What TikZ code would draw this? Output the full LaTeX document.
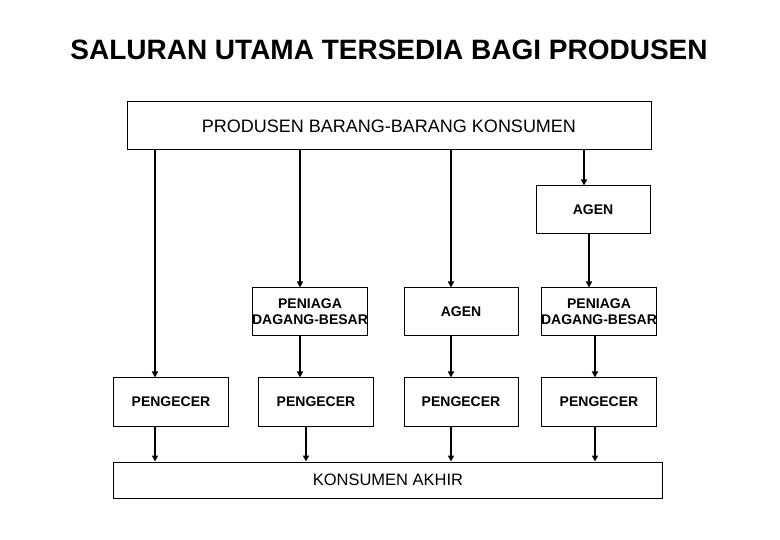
\documentclass[tikz,border=0pt]{standalone}
\usepackage{fontspec}
\setmainfont{Liberation Sans}
\usetikzlibrary{arrows.meta}
\begin{document}
\begin{tikzpicture}[x=1pt,y=-1pt,
  bx/.style={draw,line width=1pt,inner sep=0pt,align=center,font=\fontsize{14}{16}\selectfont\bfseries},
  ar/.style={line width=2pt,-{Triangle[length=6pt,width=6pt]}}]
\useasboundingbox (0,0) rectangle (780,540);
\node[font=\fontsize{28}{30}\selectfont\bfseries] (title) at (389,50) {SALURAN UTAMA TERSEDIA BAGI PRODUSEN};
\node[bx,minimum width=524pt,minimum height=48pt,font=\fontsize{18}{20}\selectfont] (prod) at (389,126) {PRODUSEN BARANG-BARANG KONSUMEN};
\node[bx,minimum width=114pt,minimum height=48pt] (agen0) at (593,210) {AGEN};
\node[bx,minimum width=115pt,minimum height=48pt] (pn1) at (310,312) {PENIAGA\\DAGANG-BESAR};
\node[bx,minimum width=114pt,minimum height=48pt] (agen1) at (461,312) {AGEN};
\node[bx,minimum width=115pt,minimum height=48pt] (pn2) at (599,312) {PENIAGA\\DAGANG-BESAR};
\node[bx,minimum width=115pt,minimum height=48pt] (pg1) at (171,402) {PENGECER};
\node[bx,minimum width=115pt,minimum height=48pt] (pg2) at (316,402) {PENGECER};
\node[bx,minimum width=114pt,minimum height=48pt] (pg3) at (461,402) {PENGECER};
\node[bx,minimum width=115pt,minimum height=48pt] (pg4) at (599,402) {PENGECER};
\node[bx,minimum width=549pt,minimum height=36pt,font=\fontsize{16.5}{18}\selectfont] (kons) at (388,480) {KONSUMEN AKHIR};
\draw[ar] (prod.south -| 155,0) -- (pg1.north -| 155,0);
\draw[ar] (prod.south -| 300,0) -- (pn1.north -| 300,0);
\draw[ar] (prod.south -| 451,0) -- (agen1.north -| 451,0);
\draw[ar] (prod.south -| 584,0) -- (agen0.north -| 584,0);
\draw[ar] (agen0.south -| 589,0) -- (pn2.north -| 589,0);
\draw[ar] (pn1.south -| 300,0) -- (pg2.north -| 300,0);
\draw[ar] (agen1.south -| 451,0) -- (pg3.north -| 451,0);
\draw[ar] (pn2.south -| 595,0) -- (pg4.north -| 595,0);
\draw[ar] (pg1.south -| 155,0) -- (kons.north -| 155,0);
\draw[ar] (pg2.south -| 306,0) -- (kons.north -| 306,0);
\draw[ar] (pg3.south -| 451,0) -- (kons.north -| 451,0);
\draw[ar] (pg4.south -| 595,0) -- (kons.north -| 595,0);
\end{tikzpicture}
\end{document}
